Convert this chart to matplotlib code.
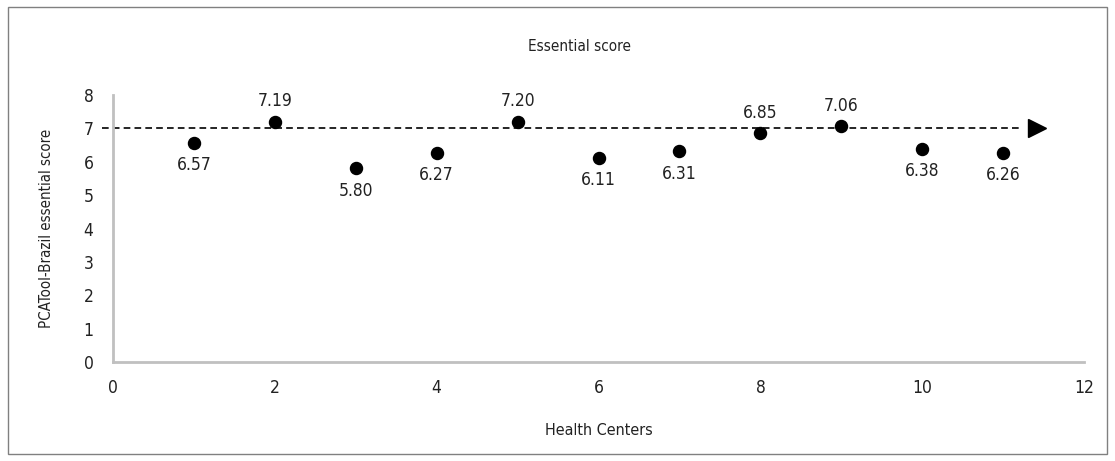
import matplotlib.pyplot as plt
from matplotlib.patches import Rectangle

centers = [1, 2, 3, 4, 5, 6, 7, 8, 9, 10, 11]
scores = [6.57, 7.19, 5.80, 6.27, 7.20, 6.11, 6.31, 6.85, 7.06, 6.38, 6.26]
above = [False, True, False, False, True, False, False, True, True, False, False]
reference = 7

plt.rcParams['font.family'] = ['DejaVu Sans']
plt.rcParams['font.stretch'] = 'condensed'

fig = plt.figure(figsize=(11.15, 4.61), dpi=100)
ax = fig.add_axes([0.1013, 0.2148, 0.871, 0.579])

# frame around the whole figure
fig.patches.append(Rectangle((0.007, 0.015), 0.986, 0.97, transform=fig.transFigure,
                             fill=False, edgecolor='#808080', linewidth=1))

# dashed reference line with arrow head
ax.plot([-0.14, 11.2], [reference, reference], color='black', linestyle='--',
        dashes=(4, 2.5), linewidth=1.2, clip_on=False, zorder=2)
ax.plot([11.42], [reference], marker='>', markersize=13, color='black',
        clip_on=False, zorder=3, linestyle='none')

ax.scatter(centers, scores, s=75, color='black', zorder=4)
for cx, sc, up in zip(centers, scores, above):
    dy = 15 if up else -16
    ax.annotate('%.2f' % sc, (cx, sc), xytext=(0, dy), textcoords='offset points',
                ha='center', va='center', fontsize=12.5, color='#222222')

ax.set_xlim(0, 12)
ax.set_ylim(0, 8)
ax.set_xticks(range(0, 13, 2))
ax.set_yticks(range(0, 9))
ax.tick_params(length=0, labelsize=12.5, colors='#222222', pad=12)
ax.tick_params(axis='y', pad=14)
for side in ['top', 'right']:
    ax.spines[side].set_visible(False)
for side in ['left', 'bottom']:
    ax.spines[side].set_color('#c0c0c0')
    ax.spines[side].set_linewidth(2)

ax.set_xlabel('Health Centers', fontsize=11.5, color='#222222', labelpad=19)
ax.set_ylabel('PCATool-Brazil essential score', fontsize=10.8, color='#222222', labelpad=21)
fig.text(0.52, 0.9, 'Essential score', ha='center', va='center', fontsize=11, color='#222222')

fig.savefig('out.png', dpi=100)
